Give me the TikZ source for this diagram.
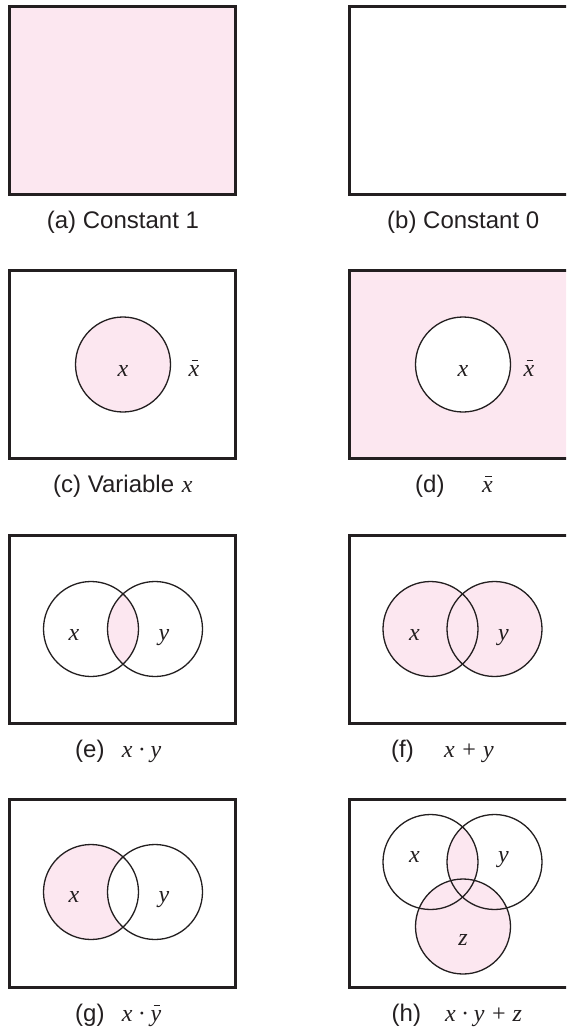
\documentclass[tikz,border=0pt]{standalone}
\usepackage{fontspec}
\setmainfont{Liberation Sans}
\newfontfamily\tms{Liberation Serif}
\definecolor{vpink}{RGB}{252,231,240}
\definecolor{vline}{RGB}{35,31,32}
\newcommand\vi[1]{{\tms\itshape #1}}
\newcommand\vbar[1]{\leavevmode\rlap{\kern3pt\raisebox{15.5pt}{\rule{6.5pt}{0.9pt}}}\vi{#1}}
\begin{document}
\begin{tikzpicture}[x=1pt,y=-1pt,
  frame/.style={draw=vline,line width=3pt},
  ring/.style={draw=vline,line width=1.3pt},
  lbl/.style={inner sep=0pt,anchor=base,font=\fontsize{24}{28}\selectfont,text=vline},
  capt/.style={inner sep=0pt,anchor=base west,font=\fontsize{24}{28}\selectfont,text=vline}]
\useasboundingbox (0,0) rectangle (566,1028);
\clip (0,0) rectangle (566,1028);
\def\R{47.5}
% ---------- row 1 ----------
\filldraw[frame,fill=vpink] (9.5,6.2) rectangle (235.5,194.2);
\draw[frame] (349.5,6.2) rectangle (580,194.2);
\node[capt] (capa) at (46.7,228) {(a) Constant 1};
\node[capt] (capb) at (387,228) {(b) Constant 0};
% ---------- row 2 ----------
\draw[frame] (9.5,270.7) rectangle (235.5,458.7);
\filldraw[ring,fill=vpink] (123,364.5) circle (\R);
\node[lbl] (cx) at (123,376) {\vi{x}};
\node[lbl] (cxb) at (194,376) {\vbar{x}};
\node[capt] (capc) at (53,492.5) {\makebox[128.7pt][l]{(c) Variable}\vi{x}};
\filldraw[frame,fill=vpink] (349.5,270.7) rectangle (580,458.7);
\filldraw[ring,fill=white] (463,364.5) circle (\R);
\node[lbl] (dx) at (463,376) {\vi{x}};
\node[lbl] (dxb) at (529,376) {\vbar{x}};
\node[capt] (capd) at (415,492.5) {\makebox[67pt][l]{(d)}\vbar{x}};
% ---------- row 3 ----------
\draw[frame] (9.5,535.2) rectangle (235.5,723.2);
\begin{scope}
  \clip (91,629) circle (\R);
  \fill[vpink] (155,629) circle (\R);
\end{scope}
\draw[ring] (91,629) circle (\R);
\draw[ring] (155,629) circle (\R);
\node[lbl] (ex) at (74,640.5) {\vi{x}};
\node[lbl] (ey) at (164,640.5) {\vi{y}};
\node[capt] (cape) at (75,757) {\makebox[46.7pt][l]{(e)}\vi{x · y}};
\draw[frame] (349.5,535.2) rectangle (580,723.2);
\fill[vpink] (430.5,629) circle (\R);
\fill[vpink] (494.5,629) circle (\R);
\draw[ring] (430.5,629) circle (\R);
\draw[ring] (494.5,629) circle (\R);
\node[lbl] (fx) at (414.5,640.5) {\vi{x}};
\node[lbl] (fy) at (503.5,640.5) {\vi{y}};
\node[capt] (capf) at (391,757) {\makebox[53pt][l]{(f)}\vi{x + y}};
% ---------- row 4 ----------
\draw[frame] (9.5,799.7) rectangle (235.5,987.7);
\fill[vpink] (91,892) circle (\R);
\begin{scope}
  \clip (91,892) circle (\R);
  \fill[white] (155,892) circle (\R);
\end{scope}
\draw[ring] (91,892) circle (\R);
\draw[ring] (155,892) circle (\R);
\node[lbl] (gx) at (74,902) {\vi{x}};
\node[lbl] (gy) at (164,902) {\vi{y}};
\node[capt] (capg) at (75,1021) {\makebox[46.7pt][l]{(g)}\vi{x · }\vbar{y}};
\draw[frame] (349.5,799.7) rectangle (580,987.7);
\fill[vpink] (463,926.5) circle (\R);
\begin{scope}
  \clip (430.5,862) circle (\R);
  \fill[vpink] (494.5,862) circle (\R);
\end{scope}
\draw[ring] (430.5,862) circle (\R);
\draw[ring] (494.5,862) circle (\R);
\draw[ring] (463,926.5) circle (\R);
\node[lbl] (hx) at (414.5,862) {\vi{x}};
\node[lbl] (hy) at (503.5,862) {\vi{y}};
\node[lbl] (hz) at (463,945) {\vi{z}};
\node[capt] (caph) at (391.5,1021) {\makebox[53.5pt][l]{(h)}\vi{x · y + z}};
\end{tikzpicture}
\end{document}
